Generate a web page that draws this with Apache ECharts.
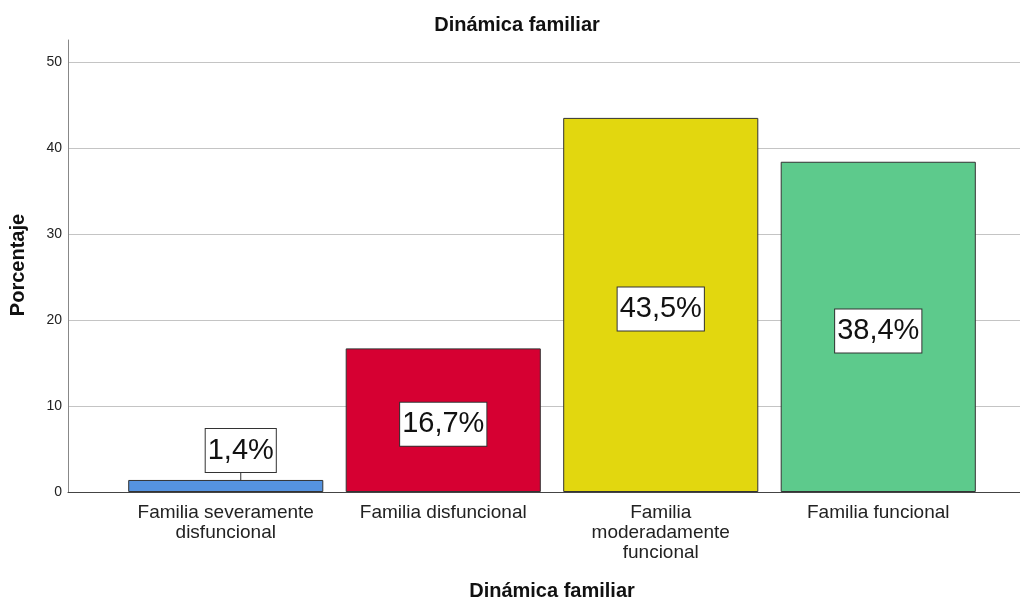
<!DOCTYPE html>
<html><head><meta charset="utf-8">
<script src="https://cdn.jsdelivr.net/npm/echarts@6/dist/echarts.min.js"></script>
<style>html,body{margin:0;padding:0;background:#fff}#c{width:1020px;height:602px}</style>
</head><body><div id="c"></div>
<script>
const categories = ['Familia severamente\ndisfuncional', 'Familia disfuncional', 'Familia\nmoderadamente\nfuncional', 'Familia funcional'];
const values = [1.4, 16.7, 43.5, 38.4];
const colors = ['#5593E0', '#D60032', '#E2D70F', '#5DCA8C'];
const yTicks = [0, 10, 20, 30, 40, 50];

const FONT = 'Liberation Sans, Arial, sans-serif';
const NARROW = '"Liberation Sans Narrow", "Arial Narrow", sans-serif';
const chart = echarts.init(document.getElementById('c'), null, {renderer: 'canvas'});
const top50 = 62, bottomPx = 110, axisTop = 40;

chart.setOption({
  animation: false,
  title: {text: 'Dinámica familiar', left: 512, textAlign: 'center', top: 10,
    textStyle: {fontFamily: FONT, fontSize: 20, fontWeight: 'bold', color: '#111'}},
  grid: [
    {left: 68, right: 0, top: top50, bottom: bottomPx, outerBoundsMode: 'none', containLabel: false},
    {left: 117, right: 33, top: top50, bottom: bottomPx, outerBoundsMode: 'none', containLabel: false},
    {left: 68, right: 0, top: axisTop, bottom: bottomPx, outerBoundsMode: 'none', containLabel: false}
  ],
  xAxis: [
    {gridIndex: 0, type: 'category', data: [''], axisLine: {show: true, lineStyle: {color: '#444', width: 1}},
      axisTick: {show: false}, axisLabel: {show: false},
      name: 'Dinámica familiar', nameLocation: 'middle', nameGap: 89,
      nameTextStyle: {fontFamily: FONT, fontSize: 20, fontWeight: 'bold', color: '#111', padding: [0, 0, 0, 16]}},
    {gridIndex: 1, type: 'category', data: categories, axisLine: {show: false}, axisTick: {show: false},
      axisLabel: {fontFamily: FONT, fontSize: 19, color: '#222', margin: 11, lineHeight: 20, interval: 0}},
    {gridIndex: 2, type: 'category', data: [''], show: false}
  ],
  yAxis: [
    {gridIndex: 0, type: 'value', min: yTicks[0], max: yTicks[yTicks.length - 1], interval: 10,
      axisLine: {show: false}, axisTick: {show: false},
      axisLabel: {fontFamily: FONT, fontSize: 14, color: '#222', margin: 6},
      splitLine: {show: true, lineStyle: {color: '#c4c4c4', width: 1}},
      name: 'Porcentaje', nameLocation: 'middle', nameGap: 40, nameRotate: 90,
      nameTextStyle: {fontFamily: FONT, fontSize: 20, fontWeight: 'bold', color: '#111', padding: [0, 0, 0, 24]}},
    {gridIndex: 1, type: 'value', min: 0, max: 50, show: false},
    {gridIndex: 2, type: 'value', min: 0, max: 52.6, axisLine: {show: true, lineStyle: {color: '#888', width: 1}},
      axisTick: {show: false}, axisLabel: {show: false}, splitLine: {show: false}}
  ],
  series: [{
    type: 'bar', xAxisIndex: 1, yAxisIndex: 1,
    barCategoryGap: '10.3%',
    data: values.map((v, i) => ({
      value: v,
      itemStyle: {color: colors[i], borderColor: '#333', borderWidth: 1},
      label: {position: i === 0 ? 'top' : 'inside'},
      labelLine: {show: i === 0, lineStyle: {color: '#333', width: 1}}
    })),
    labelLayout: p => p.dataIndex === 0 ? {dx: 15, dy: -3} : {dy: 4},
    label: {
      show: true,
      formatter: p => p.value.toFixed(1).replace('.', ',') + '%',
      fontFamily: NARROW, fontSize: 29, color: '#111', lineHeight: 33,
      backgroundColor: '#fff', borderColor: '#333', borderWidth: 1, padding: [6, 2, 4, 2]
    }
  }]
});
</script></body></html>
